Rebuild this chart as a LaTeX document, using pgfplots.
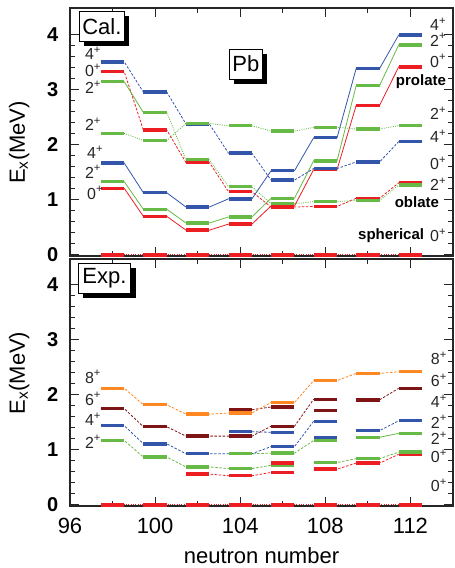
\documentclass[border=0pt]{standalone}
\usepackage{fontspec}
\setmainfont{Liberation Sans}
\usepackage{pgfplots}
\pgfplotsset{compat=1.18}
\usetikzlibrary{shadows}

\definecolor{lvblue}{RGB}{51,85,170}
\definecolor{lvred}{RGB}{236,30,36}
\definecolor{lvgreen}{RGB}{104,186,70}
\definecolor{lvorange}{RGB}{255,136,34}
\definecolor{lvdark}{RGB}{125,20,22}

\newcommand{\fs}[1]{\fontsize{#1}{#1}\selectfont}
\newcommand{\spin}[1]{#1\textsuperscript{+}}

\tikzset{
  spinlbl/.style={font=\fs{16}, anchor=west, inner sep=0pt, text=black!85},
  shapelbl/.style={font=\fs{15}\bfseries, inner sep=0pt},
  boxlbl/.style={font=\fs{22}, draw=black, line width=0.8pt, fill=white,
    inner xsep=3pt, minimum height=30pt, anchor=north west,
    drop shadow={shadow xshift=5pt, shadow yshift=-5pt, fill=black, opacity=1}},
}

\pgfplotsset{
  levelaxis/.style={
    scale only axis, width=383pt, xmin=96, xmax=114,
    xtick={96,100,...,112}, minor xtick={98,102,106,110},
    ytick={0,1,2,3,4}, minor y tick num=4,
    tick align=inside, xtick pos=both, ytick pos=both,
    major tick length=9pt, minor tick length=5pt,
    axis line style={line width=1.3pt, black!85},
    tick style={line width=1pt, black!85},
    clip=false,
    /pgf/number format/assume math mode=true,
    yticklabel style={font=\fs{20}\bfseries, anchor=east, inner sep=0pt, xshift=-11.5pt},
    xticklabel style={font=\fs{22}, anchor=north, inner sep=0pt, yshift=-12pt},
    ylabel={E\textsubscript{x}(MeV)},
  },
  conn/.style={line width=0.8pt, mark=none, forget plot},
  sol/.style={conn},
  dsh/.style={conn, dash pattern=on 2.5pt off 1.6pt},
  dtt/.style={conn, dash pattern=on 1pt off 1.3pt},
  lev/.style={draw=none, mark=none, forget plot,
    error bars/.cd, x dir=both, x fixed=0.55, error mark=none,
    error bar style={line width=3.4pt, draw=#1, solid}},
}

\begin{document}
\begin{tikzpicture}
\useasboundingbox (0pt,0pt) rectangle (455pt,568pt);

% ---------------- calculated levels ----------------
\begin{axis}[levelaxis, at={(70pt,312pt)}, anchor=south west,
  height=248pt, ymin=-0.02, ymax=4.49, xticklabels={},
  ylabel style={font=\fs{22}, at={(axis description cs:-0.133,0.458)}, anchor=center}]

% connecting lines
\addplot[dtt, lvred] coordinates {(97.45,0)(112.55,0)};
\addplot[sol, lvred] coordinates {(97.45,1.21)(98.55,1.21)(99.45,0.70)(100.55,0.70)(101.45,0.45)(102.55,0.45)(103.45,0.56)(104.55,0.56)(105.45,0.89)(106.55,0.89)(107.45,1.55)(108.55,1.55)(109.45,2.72)(110.55,2.72)(111.45,3.42)(112.55,3.42)};
\addplot[sol, lvgreen] coordinates {(97.45,1.33)(98.55,1.33)(99.45,0.83)(100.55,0.83)(101.45,0.58)(102.55,0.58)(103.45,0.69)(104.55,0.69)(105.45,1.03)(106.55,1.03)(107.45,1.71)(108.55,1.71)(109.45,3.08)(110.55,3.08)(111.45,3.82)(112.55,3.82)};
\addplot[sol, lvblue] coordinates {(97.45,1.67)(98.55,1.67)(99.45,1.13)(100.55,1.13)(101.45,0.87)(102.55,0.87)(103.45,1.02)(104.55,1.02)(105.45,1.53)(106.55,1.53)(107.45,2.13)(108.55,2.13)(109.45,3.39)(110.55,3.39)(111.45,4.00)(112.55,4.00)};
\addplot[dsh, lvblue] coordinates {(97.45,3.51)(98.55,3.51)(99.45,2.96)(100.55,2.96)(101.45,2.38)(102.55,2.38)(103.45,1.85)(104.55,1.85)(105.45,1.36)(106.55,1.36)(107.45,1.57)(108.55,1.57)(109.45,1.69)(110.55,1.69)(111.45,2.06)(112.55,2.06)};
\addplot[dsh, lvred] coordinates {(97.45,3.33)(98.55,3.33)(99.45,2.27)(100.55,2.27)(101.45,1.68)(102.55,1.68)(103.45,1.15)(104.55,1.15)(105.45,0.87)(106.55,0.87)(107.45,0.88)(108.55,0.88)(109.45,1.03)(110.55,1.03)(111.45,1.31)(112.55,1.31)};
\addplot[sol, lvgreen] coordinates {(98.55,3.15)(99.45,2.59)};
\addplot[dtt, lvgreen] coordinates {(100.55,2.59)(101.45,1.73)(102.55,1.73)(103.45,1.24)(104.55,1.24)(105.45,0.93)(106.55,0.93)(107.45,0.97)(108.55,0.97)(109.45,0.99)(110.55,0.99)(111.45,1.27)(112.55,1.27)};
\addplot[dtt, lvgreen] coordinates {(97.45,2.21)(98.55,2.21)(99.45,2.08)(100.55,2.08)(101.45,2.39)(102.55,2.39)(103.45,2.35)(104.55,2.35)(105.45,2.25)(106.55,2.25)(107.45,2.32)(108.55,2.32)(109.45,2.29)(110.55,2.29)(111.45,2.35)(112.55,2.35)};

% levels
\addplot[lev=lvred] coordinates {(98,0)(100,0)(102,0)(104,0)(106,0)(108,0)(110,0)(112,0)};
\addplot[lev=lvred] coordinates {(98,1.21)(100,0.70)(102,0.45)(104,0.56)(106,0.89)(108,1.55)(110,2.72)(112,3.42)};
\addplot[lev=lvblue] coordinates {(98,3.51)(100,2.96)(102,2.38)(104,1.85)(106,1.36)(108,1.57)(110,1.69)(112,2.06)};
\addplot[lev=lvgreen] coordinates {(98,2.21)(100,2.08)(102,2.39)(104,2.35)(106,2.25)(108,2.32)(110,2.29)(112,2.35)};
\addplot[lev=lvred] coordinates {(98,3.33)(100,2.27)(102,1.68)(104,1.15)(106,0.87)(108,0.88)(110,1.03)(112,1.31)};
\addplot[lev=lvgreen] coordinates {(98,3.15)(100,2.59)(102,1.73)(104,1.24)(106,0.93)(108,0.97)(110,0.99)(112,1.27)};
\addplot[lev=lvgreen] coordinates {(98,1.33)(100,0.83)(102,0.58)(104,0.69)(106,1.03)(108,1.71)(110,3.08)(112,3.82)};
\addplot[lev=lvblue] coordinates {(98,1.67)(100,1.13)(102,0.87)(104,1.02)(106,1.53)(108,2.13)(110,3.39)(112,4.00)};

% spin labels
\node[spinlbl] at (axis cs:96.70,3.67) {\spin{4}};
\node[spinlbl] at (axis cs:96.70,3.35) {\spin{0}};
\node[spinlbl] at (axis cs:96.70,3.05) {\spin{2}};
\node[spinlbl] at (axis cs:96.70,2.38) {\spin{2}};
\node[spinlbl] at (axis cs:96.80,1.87) {\spin{4}};
\node[spinlbl] at (axis cs:96.70,1.51) {\spin{2}};
\node[spinlbl] at (axis cs:96.80,1.13) {\spin{0}};

\node[spinlbl] at (axis cs:112.92,4.20) {\spin{4}};
\node[spinlbl] at (axis cs:112.92,3.91) {\spin{2}};
\node[spinlbl] at (axis cs:112.92,3.53) {\spin{0}};
\node[spinlbl] at (axis cs:112.92,2.58) {\spin{2}};
\node[spinlbl] at (axis cs:112.92,2.16) {\spin{4}};
\node[spinlbl] at (axis cs:112.92,1.67) {\spin{0}};
\node[spinlbl] at (axis cs:112.92,1.29) {\spin{2}};
\node[spinlbl] at (axis cs:112.92,0.35) {\spin{0}};

\node[shapelbl, anchor=east] at (axis cs:113.68,3.15) {prolate};
\node[shapelbl, anchor=east] at (axis cs:113.35,0.96) {oblate};
\node[shapelbl, anchor=east] at (axis cs:112.65,0.35) {spherical};

\node[boxlbl] at (axis cs:96.42,4.44) {Cal.};
\node[boxlbl] at (axis cs:103.47,3.75) {Pb};
\end{axis}

% ---------------- experimental levels ----------------
\begin{axis}[levelaxis, at={(70pt,62pt)}, anchor=south west,
  height=247pt, ymin=-0.02, ymax=4.47,
  xlabel={neutron number},
  xlabel style={font=\fs{22}, at={(axis description cs:0.5,0)}, anchor=base, yshift=-57.5pt},
  ylabel style={font=\fs{22}, at={(axis description cs:-0.133,0.538)}, anchor=center}]

% connecting lines
\addplot[dtt, lvred] coordinates {(97.45,0)(112.55,0)};
\addplot[dsh, lvred] coordinates {(101.45,0.56)(102.55,0.56)(103.45,0.53)(104.55,0.53)(105.45,0.59)};
\addplot[dsh, lvred] coordinates {(107.45,0.65)(108.55,0.65)(109.45,0.76)(110.55,0.76)(111.45,0.92)};
\addplot[dsh, lvgreen] coordinates {(97.45,1.17)(98.55,1.17)(99.45,0.87)(100.55,0.87)(101.45,0.69)(102.55,0.69)(103.45,0.66)(104.55,0.66)(105.45,0.72)};
\addplot[dsh, lvgreen] coordinates {(107.45,0.77)(108.55,0.77)(109.45,0.84)(110.55,0.84)(111.45,0.96)};
\addplot[dsh, lvblue] coordinates {(97.45,1.44)(98.55,1.44)(99.45,1.11)(100.55,1.11)(101.45,0.93)(102.55,0.93)(103.45,0.93)(104.55,0.93)(105.45,1.06)(106.55,1.06)(107.45,1.52)};
\addplot[dsh, lvblue] coordinates {(109.45,1.35)(110.55,1.35)(111.45,1.53)};
\addplot[dsh, lvgreen] coordinates {(103.45,0.93)(104.55,0.93)(105.45,0.94)(106.55,0.94)(107.45,1.17)};
\addplot[sol, lvgreen] coordinates {(110.55,1.23)(111.45,1.30)};
\addplot[dsh, lvblue] coordinates {(104.55,1.33)(105.45,1.32)};
\addplot[dsh, lvdark] coordinates {(97.45,1.75)(98.55,1.75)(99.45,1.42)(100.55,1.42)(101.45,1.25)(102.55,1.25)(103.45,1.25)(104.55,1.25)(105.45,1.43)(106.55,1.43)(107.45,1.92)};
\addplot[dsh, lvdark] coordinates {(110.55,1.91)(111.45,2.12)};
\addplot[dsh, lvdark] coordinates {(104.55,1.73)(105.45,1.78)};
\addplot[dsh, lvorange] coordinates {(97.45,2.12)(98.55,2.12)(99.45,1.82)(100.55,1.82)(101.45,1.65)(102.55,1.65)(103.45,1.67)(104.55,1.67)(105.45,1.86)(106.55,1.86)(107.45,2.26)(108.55,2.26)(109.45,2.39)(110.55,2.39)(111.45,2.42)};

% levels
\addplot[lev=lvred] coordinates {(98,0)(100,0)(102,0)(104,0)(106,0)(108,0)(110,0)(112,0)};
\addplot[lev=lvred] coordinates {(102,0.56)(104,0.53)(106,0.59)(108,0.65)(110,0.76)(112,0.92)};
\addplot[lev=lvgreen] coordinates {(98,1.17)(100,0.87)(102,0.69)(104,0.66)(106,0.72)(108,0.77)(110,0.84)(112,0.96)};
\addplot[lev=lvred] coordinates {(106,0.76)};
\addplot[lev=lvblue] coordinates {(98,1.44)(100,1.11)(102,0.93)(104,0.93)(106,1.06)(108,1.52)(110,1.35)(112,1.53)};
\addplot[lev=lvgreen] coordinates {(104,0.93)(106,0.94)(108,1.17)(110,1.23)(112,1.30)};
\addplot[lev=lvblue] coordinates {(104,1.33)(106,1.32)(108,1.22)};
\addplot[lev=lvorange] coordinates {(98,2.12)(100,1.82)(102,1.65)(104,1.67)(106,1.86)(108,2.26)(110,2.39)(112,2.42)};
\addplot[lev=lvdark] coordinates {(98,1.75)(100,1.42)(102,1.25)(104,1.25)(106,1.43)(108,1.92)(110,1.91)(112,2.12)};
\addplot[lev=lvdark] coordinates {(104,1.73)(106,1.78)(108,1.72)};

% spin labels
\node[spinlbl] at (axis cs:96.70,2.33) {\spin{8}};
\node[spinlbl] at (axis cs:96.70,1.93) {\spin{6}};
\node[spinlbl] at (axis cs:96.70,1.55) {\spin{4}};
\node[spinlbl] at (axis cs:96.70,1.15) {\spin{2}};

\node[spinlbl] at (axis cs:112.95,2.67) {\spin{8}};
\node[spinlbl] at (axis cs:112.95,2.27) {\spin{6}};
\node[spinlbl] at (axis cs:112.95,1.88) {\spin{4}};
\node[spinlbl] at (axis cs:112.95,1.51) {\spin{2}};
\node[spinlbl] at (axis cs:112.95,1.21) {\spin{2}};
\node[spinlbl] at (axis cs:112.95,0.88) {\spin{0}};
\node[spinlbl] at (axis cs:112.95,0.36) {\spin{0}};

\node[boxlbl, inner xsep=4pt] at (axis cs:96.38,4.40) {Exp.};
\end{axis}
\end{tikzpicture}
\end{document}
